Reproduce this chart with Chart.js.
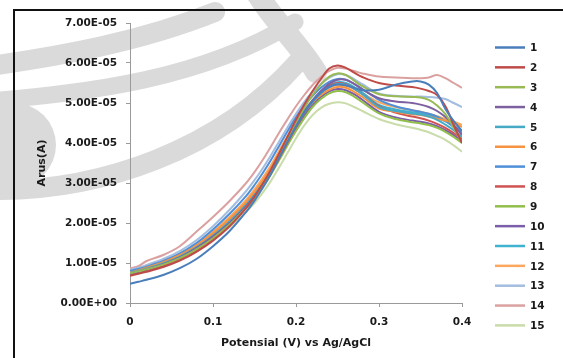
<!DOCTYPE html>
<html>
<head>
<meta charset="utf-8">
<title>Arus vs Potensial</title>
<script src="https://cdn.jsdelivr.net/npm/chart.js@4/dist/chart.umd.min.js"></script>
<style>
  html, body { margin: 0; padding: 0; background: #fff; }
  #wrap { width: 563px; height: 358px; position: relative; }
</style>
</head>
<body>
<div id="wrap"><canvas id="cvChart"></canvas></div>
<script>
// potential (V vs Ag/AgCl)
const potential = [0, 0.01, 0.02, 0.04, 0.06, 0.08, 0.10, 0.12, 0.14, 0.15, 0.16, 0.17, 0.18, 0.19, 0.20,
    0.21, 0.22, 0.23, 0.24, 0.25, 0.26, 0.27, 0.28, 0.30, 0.32, 0.34, 0.35, 0.36, 0.37, 0.38, 0.39, 0.40];

// current for each scan, in units of 1E-05 A
const run1 = [0.48, 0.53, 0.58, 0.70, 0.87, 1.10, 1.42, 1.80, 2.28, 2.56, 2.88, 3.24, 3.64, 4.04, 4.42,
    4.76, 5.04, 5.26, 5.40, 5.46, 5.44, 5.38, 5.32, 5.33, 5.46, 5.54, 5.54, 5.46, 5.25, 4.85, 4.55, 4.30];
const run2 = [0.68, 0.73, 0.78, 0.90, 1.06, 1.28, 1.56, 1.92, 2.38, 2.66, 2.98, 3.34, 3.75, 4.17, 4.58,
    4.96, 5.30, 5.60, 5.86, 5.94, 5.88, 5.76, 5.65, 5.50, 5.44, 5.40, 5.36, 5.30, 5.20, 4.92, 4.45, 4.00];
const run3 = [0.74, 0.79, 0.84, 0.96, 1.12, 1.34, 1.62, 1.96, 2.38, 2.63, 2.92, 3.26, 3.66, 4.08, 4.50,
    4.88, 5.20, 5.46, 5.66, 5.74, 5.70, 5.56, 5.42, 5.22, 5.17, 5.15, 5.14, 5.08, 4.94, 4.72, 4.38, 4.00];
const run4 = [0.73, 0.78, 0.84, 0.97, 1.14, 1.37, 1.66, 2.00, 2.42, 2.67, 2.95, 3.28, 3.66, 4.05, 4.43,
    4.78, 5.07, 5.30, 5.48, 5.58, 5.58, 5.48, 5.34, 5.12, 5.04, 5.00, 4.96, 4.90, 4.80, 4.65, 4.45, 4.20];
const run5 = [0.75, 0.80, 0.86, 0.99, 1.16, 1.39, 1.68, 2.03, 2.45, 2.70, 2.98, 3.30, 3.68, 4.06, 4.43,
    4.76, 5.03, 5.25, 5.40, 5.48, 5.46, 5.36, 5.22, 4.90, 4.80, 4.74, 4.71, 4.66, 4.58, 4.46, 4.32, 4.15];
const run6 = [0.76, 0.82, 0.88, 1.02, 1.20, 1.43, 1.74, 2.10, 2.52, 2.78, 3.06, 3.38, 3.75, 4.12, 4.47,
    4.77, 5.01, 5.20, 5.33, 5.40, 5.38, 5.28, 5.15, 4.86, 4.78, 4.72, 4.70, 4.66, 4.61, 4.56, 4.50, 4.40];
const run7 = [0.80, 0.85, 0.91, 1.05, 1.24, 1.50, 1.84, 2.23, 2.68, 2.95, 3.25, 3.58, 3.94, 4.30, 4.64,
    4.94, 5.18, 5.38, 5.53, 5.60, 5.58, 5.48, 5.35, 5.08, 4.92, 4.82, 4.78, 4.73, 4.66, 4.55, 4.40, 4.25];
const run8 = [0.70, 0.75, 0.80, 0.93, 1.10, 1.32, 1.60, 1.95, 2.38, 2.63, 2.92, 3.25, 3.63, 4.02, 4.40,
    4.74, 5.03, 5.26, 5.43, 5.50, 5.47, 5.36, 5.22, 4.92, 4.76, 4.66, 4.62, 4.56, 4.48, 4.38, 4.25, 4.10];
const run9 = [0.72, 0.77, 0.82, 0.95, 1.12, 1.34, 1.63, 1.97, 2.38, 2.62, 2.90, 3.22, 3.58, 3.95, 4.30,
    4.62, 4.90, 5.10, 5.24, 5.30, 5.27, 5.16, 5.02, 4.74, 4.60, 4.52, 4.49, 4.45, 4.38, 4.28, 4.15, 4.00];
const run10 = [0.72, 0.77, 0.83, 0.96, 1.13, 1.35, 1.64, 1.99, 2.41, 2.66, 2.94, 3.26, 3.63, 4.00, 4.36,
    4.68, 4.95, 5.15, 5.29, 5.35, 5.32, 5.22, 5.08, 4.78, 4.64, 4.56, 4.53, 4.49, 4.42, 4.32, 4.20, 4.05];
const run11 = [0.76, 0.81, 0.87, 1.00, 1.18, 1.41, 1.72, 2.07, 2.50, 2.75, 3.04, 3.36, 3.74, 4.12, 4.48,
    4.80, 5.06, 5.27, 5.43, 5.52, 5.50, 5.40, 5.26, 4.95, 4.84, 4.77, 4.74, 4.70, 4.63, 4.54, 4.43, 4.30];
const run12 = [0.78, 0.84, 0.90, 1.04, 1.22, 1.46, 1.78, 2.15, 2.58, 2.84, 3.13, 3.45, 3.82, 4.18, 4.52,
    4.82, 5.06, 5.25, 5.38, 5.45, 5.43, 5.35, 5.24, 5.02, 4.90, 4.82, 4.78, 4.73, 4.67, 4.60, 4.54, 4.45];
const run13 = [0.83, 0.88, 0.95, 1.10, 1.30, 1.57, 1.92, 2.33, 2.80, 3.07, 3.37, 3.70, 4.05, 4.40, 4.73,
    5.03, 5.28, 5.48, 5.63, 5.72, 5.70, 5.60, 5.47, 5.24, 5.18, 5.16, 5.16, 5.15, 5.13, 5.10, 5.00, 4.90];
const run14 = [0.87, 0.92, 1.05, 1.20, 1.42, 1.78, 2.15, 2.55, 3.00, 3.27, 3.58, 3.92, 4.27, 4.60, 4.92,
    5.20, 5.45, 5.65, 5.80, 5.88, 5.86, 5.80, 5.74, 5.66, 5.64, 5.62, 5.62, 5.64, 5.70, 5.62, 5.50, 5.38];
const run15 = [0.76, 0.80, 0.85, 0.97, 1.12, 1.32, 1.58, 1.90, 2.28, 2.50, 2.76, 3.06, 3.40, 3.76, 4.12,
    4.44, 4.70, 4.88, 4.98, 5.02, 4.99, 4.90, 4.80, 4.60, 4.47, 4.38, 4.33, 4.27, 4.18, 4.08, 3.94, 3.78];

const runs = [run1, run2, run3, run4, run5, run6, run7, run8, run9, run10, run11, run12, run13, run14, run15];
const runNames = ['1', '2', '3', '4', '5', '6', '7', '8', '9', '10', '11', '12', '13', '14', '15'];
const runColors = ['#4a7ebb', '#be4b48', '#98b954', '#7d60a0', '#46aac5', '#f69240', '#4f8fd8', '#d05352',
    '#92bf4c', '#7a5eaa', '#3fb2cf', '#fba85e', '#a3bde0', '#daa1a0', '#c9dca9'];

const yTickLabels = ['0.00E+00', '1.00E-05', '2.00E-05', '3.00E-05', '4.00E-05', '5.00E-05', '6.00E-05', '7.00E-05'];
const xTickLabels = ['0', '0.1', '0.2', '0.3', '0.4'];

Chart.defaults.font.family = '"DejaVu Sans", Verdana, sans-serif';
Chart.defaults.font.weight = 'bold';
Chart.defaults.font.size = 10;
Chart.defaults.color = '#1a1a1a';

// faint grey background swirls and the black frame
const backdrop = {
    id: 'backdrop',
    beforeDraw(chart) {
        const ctx = chart.ctx;
        ctx.save();
        ctx.fillStyle = '#fff';
        ctx.fillRect(0, 0, chart.width, chart.height);
        ctx.strokeStyle = '#dadada';
        ctx.fillStyle = '#dadada';
        ctx.lineCap = 'round';

        ctx.lineWidth = 20;
        ctx.beginPath();
        ctx.moveTo(-10, 66);
        ctx.bezierCurveTo(60, 56, 140, 42, 215, 12);
        ctx.stroke();

        ctx.lineWidth = 17;
        ctx.beginPath();
        ctx.moveTo(-10, 101);
        ctx.bezierCurveTo(90, 92, 200, 80, 295, 22);
        ctx.stroke();

        ctx.beginPath();
        ctx.arc(14, 145, 42, 0, Math.PI * 2);
        ctx.fill();

        ctx.lineWidth = 20;
        ctx.beginPath();
        ctx.moveTo(-10, 190);
        ctx.bezierCurveTo(100, 192, 220, 150, 298, 62);
        ctx.stroke();

        ctx.lineWidth = 22;
        ctx.beginPath();
        ctx.moveTo(255, -10);
        ctx.bezierCurveTo(272, 20, 298, 42, 316, 72);
        ctx.stroke();
        ctx.restore();
    },
    afterDraw(chart) {
        const ctx = chart.ctx;
        ctx.save();
        // frame
        ctx.strokeStyle = '#111';
        ctx.lineWidth = 2;
        ctx.beginPath();
        ctx.moveTo(14, chart.height + 2);
        ctx.lineTo(14, 10);
        ctx.lineTo(chart.width + 2, 10);
        ctx.stroke();

        // legend
        ctx.font = 'bold 10.5px "DejaVu Sans", Verdana, sans-serif';
        ctx.textBaseline = 'middle';
        ctx.fillStyle = '#1a1a1a';
        chart.data.datasets.forEach((ds, i) => {
            const y = 47.5 + i * 19.85;
            ctx.strokeStyle = ds.borderColor;
            ctx.lineWidth = 2.5;
            ctx.beginPath();
            ctx.moveTo(495, y);
            ctx.lineTo(525, y);
            ctx.stroke();
            ctx.fillText(ds.label, 530, y + 1);
        });
        ctx.restore();
    }
};

const datasets = runs.map((vals, i) => ({
    label: runNames[i],
    data: vals.map((v, j) => ({ x: potential[j], y: v * 1e-5 })),
    borderColor: runColors[i],
    backgroundColor: runColors[i],
    borderWidth: 2,
    pointRadius: 0,
    tension: 0.35,
    showLine: true,
    fill: false
}));

new Chart(document.getElementById('cvChart'), {
    type: 'scatter',
    data: { datasets: datasets },
    options: {
        responsive: true,
        maintainAspectRatio: false,
        animation: false,
        layout: { padding: { left: 15, top: 23, right: 101, bottom: 0 } },
        plugins: {
            legend: { display: false },
            tooltip: { enabled: false }
        },
        scales: {
            x: {
                type: 'linear',
                min: 0,
                max: 0.4,
                afterFit: scale => { scale.height = 55; },
                ticks: {
                    stepSize: 0.1,
                    padding: 9,
                    font: { size: 10.5 },
                    callback: (value, index) => xTickLabels[index]
                },
                grid: { drawOnChartArea: false, drawTicks: true, tickLength: 4, color: '#9a9a9a' },
                border: { color: '#9a9a9a' },
                title: {
                    display: true,
                    text: 'Potensial (V) vs Ag/AgCl',
                    font: { size: 11 },
                    padding: { top: 0, bottom: 8 }
                }
            },
            y: {
                min: 0,
                max: 7e-5,
                afterFit: scale => { scale.width = 115; },
                ticks: {
                    stepSize: 1e-5,
                    padding: 9,
                    font: { size: 10.5 },
                    callback: (value, index) => yTickLabels[index]
                },
                grid: { drawOnChartArea: false, drawTicks: true, tickLength: 4, color: '#9a9a9a' },
                border: { color: '#9a9a9a' },
                title: {
                    display: true,
                    text: 'Arus(A)',
                    font: { size: 11 },
                    padding: { top: 21, bottom: 0 }
                }
            }
        }
    },
    plugins: [backdrop]
});
</script>
</body>
</html>
